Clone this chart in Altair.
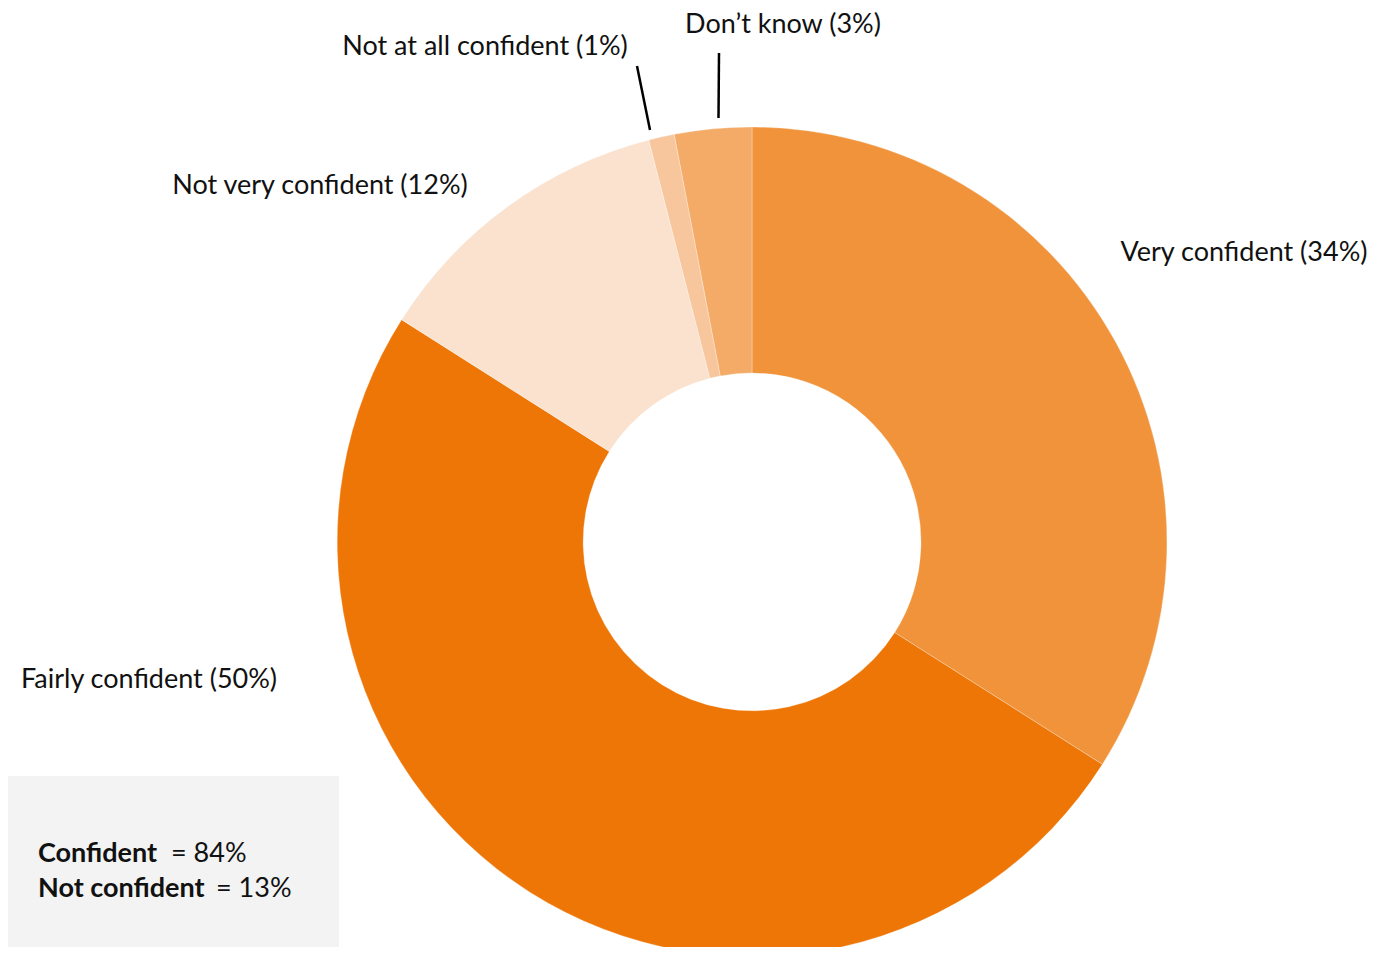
import altair as alt
import pandas as pd

categories = ["Very confident", "Fairly confident", "Not very confident", "Not at all confident", "Don't know"]
values = [34, 50, 12, 1, 3]
colors = ["#F0933A", "#EE7607", "#FAE2CF", "#F7C69C", "#F4AB67"]
labels = ["Very confident (34%)", "Fairly confident (50%)", "Not very confident (12%)",
          "Not at all confident (1%)", "Don\u2019t know (3%)"]
summary_bold = ["Confident", "Not confident"]
summary_vals = ["= 84%", "= 13%"]

FONT = "Lato"
W, H = 1372, 939
CX, CY = 744, 534

df = pd.DataFrame({"category": categories, "value": values, "order": list(range(len(categories)))})

donut = alt.Chart(df).mark_arc(radius=415, radius2=169, stroke="white", strokeWidth=0.3).encode(
    theta=alt.Theta("value:Q", stack=True),
    order=alt.Order("order:Q"),
    color=alt.Color("category:N", scale=alt.Scale(domain=categories, range=colors), legend=None),
    x=alt.value(CX),
    y=alt.value(CY),
)

base = alt.Chart(pd.DataFrame({"k": [0]}))

def label(text, x, y, align="center", bold=False, size=27):
    return base.mark_text(text=text, align=align, baseline="middle", font=FONT, fontSize=size,
                          fontWeight="bold" if bold else "normal", color="#111111").encode(
        x=alt.value(x), y=alt.value(y))

lbls = [
    label(labels[4], 775, 17),
    label(labels[3], 477, 39),
    label(labels[2], 312, 178),
    label(labels[0], 1236, 245),
    label(labels[1], 141, 672),
]

lines = [
    base.mark_rule(color="black", strokeWidth=2.5).encode(
        x=alt.value(642), y=alt.value(122), x2=alt.value(629), y2=alt.value(58)),
    base.mark_rule(color="black", strokeWidth=2.5).encode(
        x=alt.value(710.5), y=alt.value(110), x2=alt.value(711), y2=alt.value(45)),
]

box = base.mark_rect(color="#F3F3F3").encode(
    x=alt.value(-1), x2=alt.value(331), y=alt.value(768), y2=alt.value(960))

summary = [
    label(summary_bold[0], 30, 846, align="left", bold=True),
    label(summary_vals[0], 163, 846, align="left"),
    label(summary_bold[1], 30, 881, align="left", bold=True),
    label(summary_vals[1], 208, 881, align="left"),
]

chart = alt.layer(donut, *lines, *lbls, box, *summary).properties(
    width=W, height=H, padding=0, autosize=alt.AutoSizeParams(type="none")
).configure_view(stroke=None)

chart.save("out.html", embed_options={"renderer": "svg", "actions": False})
